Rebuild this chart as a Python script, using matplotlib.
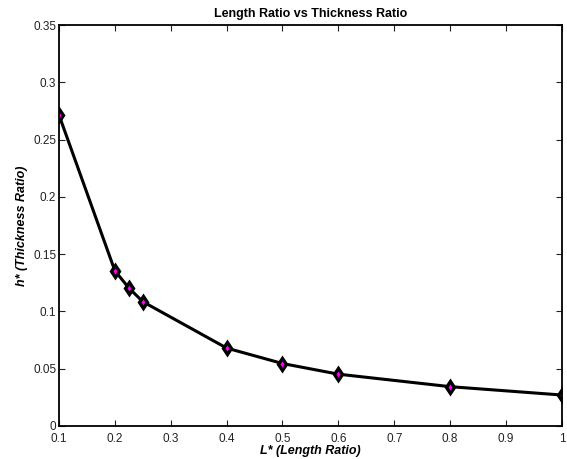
import numpy as np
import matplotlib.pyplot as plt

plt.rcParams['font.family'] = ['Liberation Sans', 'DejaVu Sans']

# data
length_ratio = [0.1, 0.2, 0.225, 0.25, 0.4, 0.5, 0.6, 0.8, 1.0]
thickness_ratio = [0.2715, 0.1355, 0.1205, 0.1085, 0.068, 0.0545, 0.0452, 0.0343, 0.027]

xticks = [0.1, 0.2, 0.3, 0.4, 0.5, 0.6, 0.7, 0.8, 0.9, 1.0]
xtick_labels = ['0.1', '0.2', '0.3', '0.4', '0.5', '0.6', '0.7', '0.8', '0.9', '1']
yticks = [0, 0.05, 0.1, 0.15, 0.2, 0.25, 0.3, 0.35]
ytick_labels = ['0', '0.05', '0.1', '0.15', '0.2', '0.25', '0.3', '0.35']

fig = plt.figure(figsize=(5.67, 4.59), dpi=100)
ax = fig.add_axes([0.104, 0.072, 0.887, 0.8735])

ax.plot(length_ratio, thickness_ratio, color='black', linewidth=2.2,
        marker='d', markersize=6, markerfacecolor='#ff00ff',
        markeredgecolor='black', markeredgewidth=2.4)

ax.set_xlim(0.1, 1.0)
ax.set_ylim(0, 0.35)
ax.set_xticks(xticks)
ax.set_xticklabels(xtick_labels)
ax.set_yticks(yticks)
ax.set_yticklabels(ytick_labels)
ax.tick_params(direction='in', top=True, right=True, length=4, width=0.8,
               labelsize=8.5, colors='#222222')
ax.tick_params(axis='x', pad=5)
ax.tick_params(axis='y', pad=2)
for s in ax.spines.values():
    s.set_linewidth(1.3)

ax.set_title('Length Ratio vs Thickness Ratio', fontsize=9, fontweight='bold', pad=6)
ax.set_xlabel('L* (Length Ratio)', fontsize=9, fontweight='bold', style='italic', labelpad=0)
ax.set_ylabel('h* (Thickness Ratio)', fontsize=9, fontweight='bold', style='italic', labelpad=4)

plt.savefig('out.png', dpi=100)
